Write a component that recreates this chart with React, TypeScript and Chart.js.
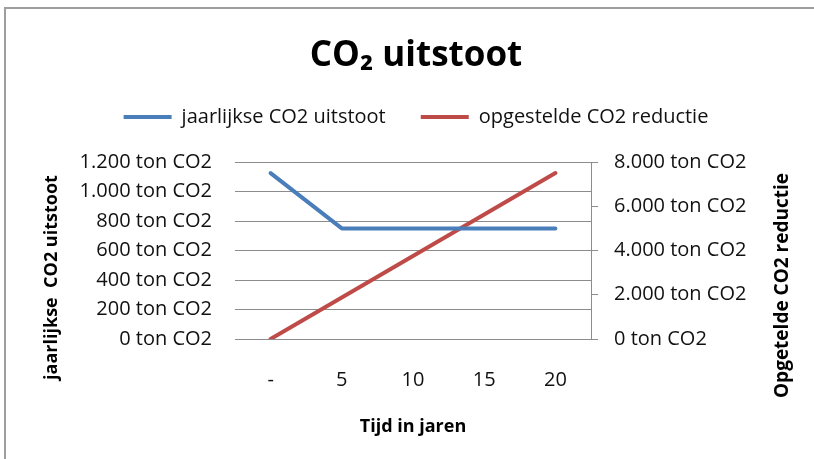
import React, { useEffect, useRef } from "react";
import { Chart, registerables, layouts } from "chart.js";

Chart.register(...registerables);

const years = ["-", "5", "10", "15", "20"];
const jaarlijkseUitstoot = [1125, 750, 750, 750, 750];
const opgeteldeReductie = [0, 1875, 3750, 5625, 7500];
const leftTickLabels = ["0 ton CO2", "200 ton CO2", "400 ton CO2", "600 ton CO2", "800 ton CO2", "1.000 ton CO2", "1.200 ton CO2"];
const rightTickLabels = ["0 ton CO2", "2.000 ton CO2", "4.000 ton CO2", "6.000 ton CO2", "8.000 ton CO2"];
const chartTitle = "CO\u2082 uitstoot";
const seriesNames = ["jaarlijkse CO2 uitstoot", "opgestelde CO2 reductie"];
const xTitle = "Tijd in jaren";
const leftTitle = "jaarlijkse  CO2 uitstoot";
const rightTitle = "Opgetelde CO2 reductie";

const FONT = "'Open Sans', 'Noto Sans', sans-serif";
const GRID = "#8c8c8c";
const TEXT = "#111111";

const axisTitlePlugin = {
  id: "sideAxisTitles",
  beforeInit(chart: any) {
    const spacer: any = {
      position: "top",
      weight: 500,
      fullSize: true,
      options: {},
      left: 0,
      top: 0,
      right: 0,
      bottom: 0,
      width: 0,
      height: 0,
      isHorizontal() {
        return true;
      },
      update(maxWidth: number) {
        this.width = maxWidth;
        this.height = 25;
      },
      draw() {},
    };
    layouts.addBox(chart, spacer);
  },
  afterDraw(chart: any) {
    const { ctx, chartArea } = chart;
    const mid = (chartArea.top + chartArea.bottom) / 2;
    ctx.save();
    ctx.font = `bold 18px ${FONT}`;
    ctx.fillStyle = "#000";
    ctx.textAlign = "center";
    ctx.textBaseline = "middle";
    ctx.translate(52, mid + 27);
    ctx.rotate(-Math.PI / 2);
    ctx.fillText(leftTitle, 0, 0);
    ctx.restore();
    ctx.save();
    ctx.font = `bold 19px ${FONT}`;
    ctx.fillStyle = "#000";
    ctx.textAlign = "center";
    ctx.textBaseline = "middle";
    ctx.translate(783, mid + 35);
    ctx.rotate(-Math.PI / 2);
    ctx.fillText(rightTitle, 0, 0);
    ctx.restore();
  },
};

export default function App() {
  const ref = useRef<HTMLCanvasElement | null>(null);
  useEffect(() => {
    if (!ref.current) return;
    const chart = new Chart(ref.current, {
      type: "line",
      data: {
        labels: years,
        datasets: [
          {
            label: seriesNames[0],
            data: jaarlijkseUitstoot,
            borderColor: "#4A7EBB",
            backgroundColor: "#4A7EBB",
            borderWidth: 4,
            borderCapStyle: "round",
            borderJoinStyle: "round",
            pointRadius: 0,
            yAxisID: "y",
          },
          {
            label: seriesNames[1],
            data: opgeteldeReductie,
            borderColor: "#BE4B48",
            backgroundColor: "#BE4B48",
            borderWidth: 4,
            borderCapStyle: "round",
            borderJoinStyle: "round",
            pointRadius: 0,
            yAxisID: "y1",
          },
        ],
      },
      options: {
        animation: false,
        responsive: false,
        layout: { padding: { left: 18, right: 0, top: 0, bottom: 0 } },
        plugins: {
          title: {
            display: true,
            text: chartTitle,
            color: "#000",
            font: { family: FONT, size: 35, weight: "bold", lineHeight: 1 },
            padding: { top: 39, bottom: -2 },
          },
          legend: {
            position: "top",
            labels: {
              usePointStyle: true,
              pointStyle: "line",
              pointStyleWidth: 48,
              padding: 35,
              color: TEXT,
              font: { family: FONT, size: 20 },
            },
          },
          tooltip: { enabled: false },
        },
        scales: {
          x: {
            type: "category",
            offset: true,
            grid: { display: false },
            border: { display: false },
            ticks: { color: TEXT, font: { family: FONT, size: 20 }, padding: 21, maxRotation: 0 },
            title: {
              display: true,
              text: xTitle,
              color: "#000",
              font: { family: FONT, size: 18, weight: "bold" },
              padding: { top: 0, bottom: 21 },
            },
            afterFit: (s: any) => {
              s.height = 120;
            },
          },
          y: {
            position: "left",
            min: 0,
            max: 1200,
            grid: { color: GRID, lineWidth: 1, drawTicks: false },
            border: { display: false },
            ticks: {
              stepSize: 200,
              padding: 23,
              color: TEXT,
              font: { family: FONT, size: 20 },
              callback: (_v: any, i: number) => leftTickLabels[i],
            },
            afterFit: (s: any) => {
              s.width = 217;
            },
          },
          y1: {
            position: "right",
            min: 0,
            max: 8000,
            grid: { drawOnChartArea: false, drawTicks: true, tickLength: 7, color: GRID, lineWidth: 1 },
            border: { display: true, color: GRID, width: 1 },
            ticks: {
              stepSize: 2000,
              padding: 16,
              color: TEXT,
              font: { family: FONT, size: 20 },
              callback: (_v: any, i: number) => rightTickLabels[i],
            },
            afterFit: (s: any) => {
              s.width = 223;
            },
          },
        },
      },
      plugins: [axisTitlePlugin],
    } as any);
    return () => chart.destroy();
  }, []);

  return (
    <div style={{ position: "fixed", left: 0, top: 0, width: 814, height: 459, overflow: "hidden", background: "#fff" }}>
      <canvas ref={ref} width={814} height={459} style={{ position: "absolute", left: 0, top: 0, width: 814, height: 459 }} />
      <div
        style={{
          position: "absolute",
          left: 4,
          top: 7,
          width: 840,
          height: 480,
          borderTop: "2px solid #9e9e9e",
          borderLeft: "2px solid #9e9e9e",
          pointerEvents: "none",
        }}
      />
    </div>
  );
}
